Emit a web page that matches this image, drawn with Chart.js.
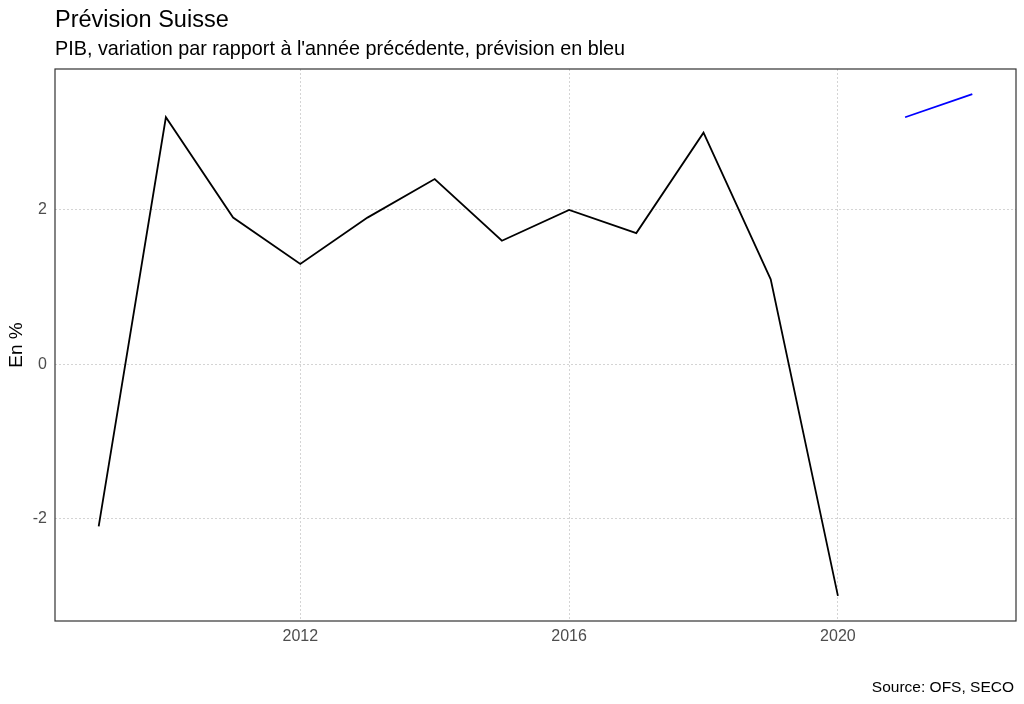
<!DOCTYPE html>
<html>
<head>
<meta charset="utf-8">
<script src="https://cdn.jsdelivr.net/npm/chart.js@4"></script>
<style>
  html, body { margin: 0; padding: 0; background: #fff; }
  #wrap { width: 1024px; height: 704px; position: relative; }
</style>
</head>
<body>
<div id="wrap"><canvas id="c" width="1024" height="704"></canvas></div>
<script>
"use strict";

// --- Data ----------------------------------------------------------------- //
const YEARS = [2009, 2010, 2011, 2012, 2013, 2014, 2015, 2016, 2017, 2018, 2019, 2020];
const GDP = [-2.1, 3.2, 1.9, 1.3, 1.9, 2.4, 1.6, 2.0, 1.7, 3.0, 1.1, -3.0];
const FORECAST_YEARS = [2021, 2022];
const FORECAST = [3.2, 3.5];
const X_TICKS = [2012, 2016, 2020];
const Y_TICKS = [-2, 0, 2];

const TITLE = "Prévision Suisse";
const SUBTITLE = "PIB, variation par rapport à l'année précédente, prévision en bleu";
const CAPTION = "Source: OFS, SECO";
const Y_LABEL = "En %";

const FONT = "'Liberation Sans', Arial, sans-serif";

const pts = (xs, ys) => xs.map((x, i) => ({ x, y: ys[i] }));

// ggplot-ish panel: full border + header / caption text
const panelText = {
  id: "panelText",
  afterDraw(chart) {
    const { ctx, chartArea: a } = chart;
    ctx.save();
    ctx.strokeStyle = "#333333";
    ctx.lineWidth = 1.2;
    ctx.strokeRect(a.left, a.top, a.right - a.left, a.bottom - a.top);
    ctx.fillStyle = "#000";
    ctx.textAlign = "left";
    ctx.textBaseline = "alphabetic";
    ctx.font = "23.5px " + FONT;
    ctx.fillText(TITLE, a.left, 27);
    ctx.font = "19.8px " + FONT;
    ctx.fillText(SUBTITLE, a.left, 55);
    ctx.font = "15.5px " + FONT;
    ctx.textAlign = "right";
    ctx.fillText(CAPTION, 1014, 692);
    ctx.restore();
  },
};

const grid = { color: "#d4d4d4", lineWidth: 1, drawTicks: false };
const tickFont = { family: FONT, size: 16 };

new Chart(document.getElementById("c"), {
  type: "line",
  data: {
    datasets: [
      { data: pts(YEARS, GDP), borderColor: "#000000", borderWidth: 1.8,
        pointRadius: 0, tension: 0 },
      { data: pts(FORECAST_YEARS, FORECAST), borderColor: "#0000ff", borderWidth: 1.8,
        pointRadius: 0, tension: 0 },
    ],
  },
  options: {
    responsive: false,
    animation: false,
    layout: { padding: { top: 69, right: 8, bottom: 0, left: 0 } },
    plugins: { legend: { display: false }, tooltip: { enabled: false } },
    scales: {
      x: {
        type: "linear",
        min: 2008.35,
        max: 2022.65,
        afterBuildTicks: (s) => { s.ticks = X_TICKS.map((v) => ({ value: v })); },
        afterFit: (s) => { s.height = 83; },
        ticks: { color: "#4d4d4d", font: tickFont, padding: 6,
                 callback: (v) => String(v) },
        grid: { ...grid },
        border: { display: false, dash: [2, 2] },
      },
      y: {
        min: -3.325,
        max: 3.825,
        afterBuildTicks: (s) => { s.ticks = Y_TICKS.map((v) => ({ value: v })); },
        afterFit: (s) => { s.width = 55; },
        ticks: { color: "#4d4d4d", font: tickFont, padding: 8,
                 callback: (v) => String(v) },
        grid: { ...grid },
        border: { display: false, dash: [2, 2] },
        title: { display: true, text: Y_LABEL, color: "#000",
                 font: { family: FONT, size: 19 }, padding: { top: 5, bottom: 0 } },
      },
    },
  },
  plugins: [panelText],
});
</script>
</body>
</html>
